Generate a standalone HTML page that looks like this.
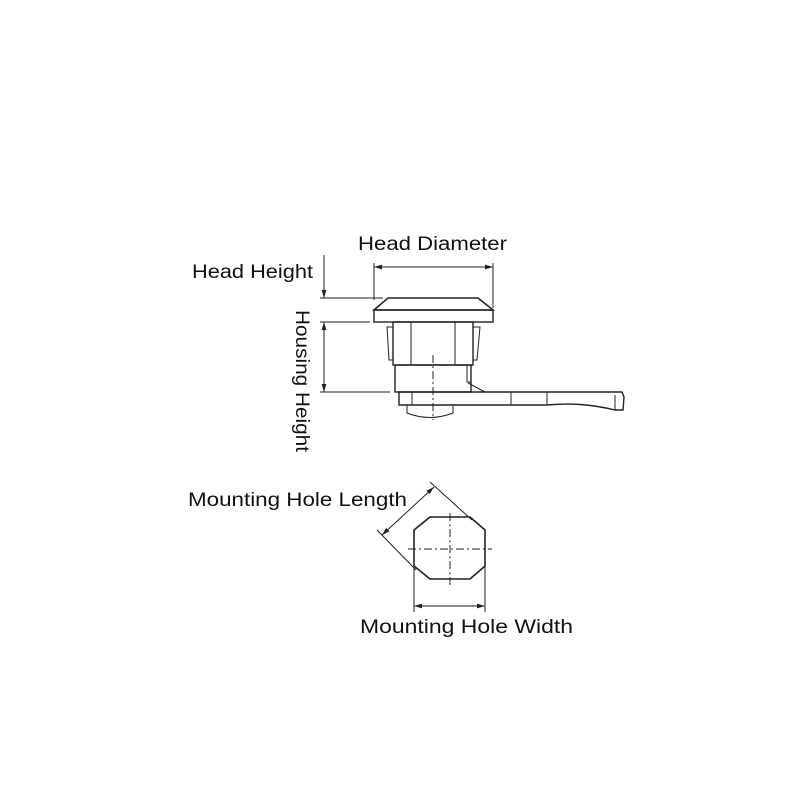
<!DOCTYPE html>
<html><head><style>
html,body{margin:0;padding:0;background:#fff;}
svg text{font-family:"Liberation Sans",sans-serif;font-size:19px;fill:#111;}
</style></head><body>
<svg width="800" height="800" viewBox="0 0 800 800" xmlns="http://www.w3.org/2000/svg">
<defs>
<marker id="a" viewBox="0 0 10 10" refX="10" refY="5" markerWidth="8" markerHeight="8" orient="auto-start-reverse"><path d="M0,2 L10,5 L0,8 z" fill="#222"/></marker>
</defs>
<g stroke="#222" fill="none" stroke-width="1">
<line x1="374" y1="267" x2="493" y2="267" marker-start="url(#a)" marker-end="url(#a)"/>
<line x1="374" y1="263" x2="374" y2="300"/>
<line x1="493" y1="263" x2="493" y2="308"/>
<path d="M388,298 L478,298 L493,310 L374,310 Z" stroke-width="1.6"/>
<rect x="374" y="310" width="119" height="12" stroke-width="1.4"/>
<line x1="324" y1="255" x2="324" y2="298" marker-end="url(#a)"/>
<line x1="320" y1="298" x2="383" y2="298"/>
<line x1="320" y1="322" x2="370" y2="322"/>
<line x1="324" y1="322" x2="324" y2="392" marker-start="url(#a)" marker-end="url(#a)"/>
<line x1="320" y1="392" x2="390" y2="392"/>
<rect x="393" y="322" width="80" height="43" stroke-width="1.4"/>
<line x1="411" y1="322" x2="411" y2="365"/>
<line x1="455" y1="322" x2="455" y2="365"/>
<path d="M393,327 L387,327 L389,360 L393,360"/>
<path d="M473,327 L480,327 L477,360 L473,360"/>
<rect x="395" y="365" width="76" height="27" stroke-width="1.4"/>
<path d="M467,365 L467,382 L471,382"/>
<path d="M468,383 L485,392"/>
<path d="M399,392 L547,392 L622,392 L624,397 L623,410 L615,410 C590,404 570,403 547,405 L399,405 Z" stroke-width="1.4"/>
<line x1="412" y1="392" x2="412" y2="405"/>
<line x1="511" y1="392" x2="511" y2="405"/>
<line x1="547" y1="392" x2="547" y2="405"/>
<line x1="615" y1="395" x2="615" y2="410"/>
<path d="M407,405 L407,413 Q430,422 453,413 L453,405"/>
<line x1="433" y1="355" x2="433" y2="420" stroke-dasharray="8,3,2,3"/>
<path d="M430,517 L470,517 L485,530 L485,566 L470,579 L430,579 L414,566 L414,530 Z" stroke-width="1.6" stroke-linejoin="round"/>
<line x1="450" y1="513" x2="450" y2="585" stroke-dasharray="8,3,2,3"/>
<line x1="408" y1="549" x2="492" y2="549" stroke-dasharray="8,3,2,3"/>
<line x1="414" y1="560" x2="414" y2="612"/>
<line x1="485" y1="560" x2="485" y2="612"/>
<line x1="414" y1="606" x2="485" y2="606" marker-start="url(#a)" marker-end="url(#a)"/>
<line x1="382" y1="535" x2="434" y2="487" marker-start="url(#a)" marker-end="url(#a)"/>
<line x1="377" y1="530" x2="416" y2="570"/>
<line x1="430" y1="482" x2="472" y2="520"/>
</g>
<text x="358" y="250" textLength="149" lengthAdjust="spacingAndGlyphs">Head Diameter</text>
<text x="192" y="278" textLength="121" lengthAdjust="spacingAndGlyphs">Head Height</text>
<text transform="translate(296,310) rotate(90)" textLength="142" lengthAdjust="spacingAndGlyphs">Housing Height</text>
<text x="188" y="506" textLength="219" lengthAdjust="spacingAndGlyphs">Mounting Hole Length</text>
<text x="360" y="633" textLength="213" lengthAdjust="spacingAndGlyphs">Mounting Hole Width</text>
</svg>
</body></html>
